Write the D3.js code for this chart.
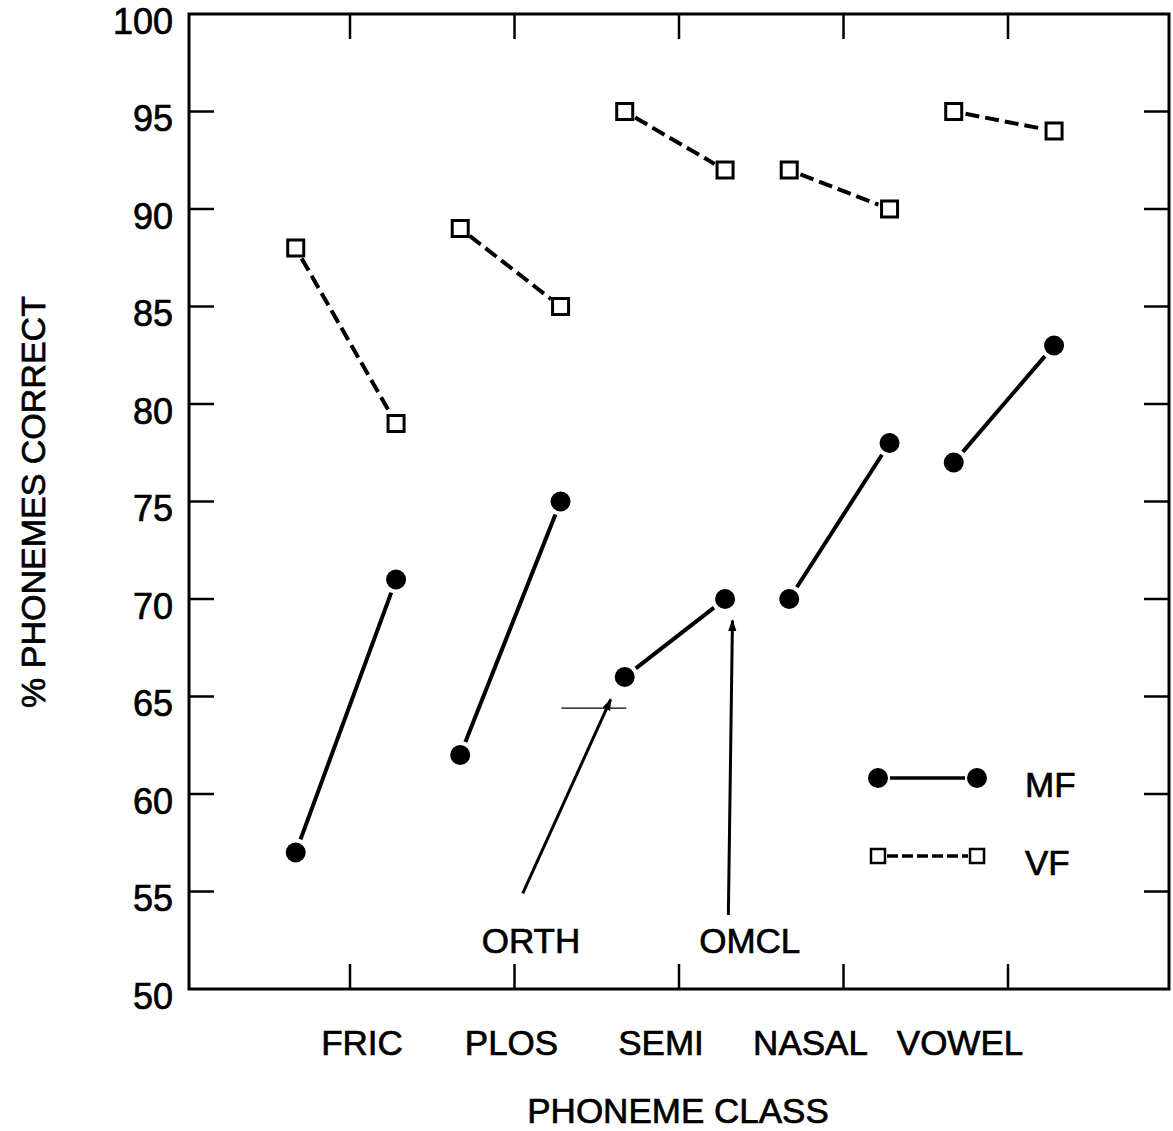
<!DOCTYPE html>
<html><head><meta charset="utf-8">
<script src="https://cdn.jsdelivr.net/npm/d3@7"></script>
<style>
html,body{margin:0;padding:0;background:#fff;}
svg{display:block;}
text{font-family:"Liberation Sans",Arial,Helvetica,sans-serif;fill:#000;stroke:#000;stroke-width:0.7px;}
</style></head>
<body>
<script>
// ---- data ----
const categories = ["FRIC", "PLOS", "SEMI", "NASAL", "VOWEL"];
const conditions = ["ORTH", "OMCL"];
const mfORTH = [57, 62, 66, 70, 77];
const mfOMCL = [71, 75, 70, 78, 83];
const vfORTH = [88, 89, 95, 92, 95];
const vfOMCL = [79, 85, 92, 90, 94];
const yTicks = [50, 55, 60, 65, 70, 75, 80, 85, 90, 95, 100];
const seriesNames = ["MF", "VF"];
const xTitle = "PHONEME CLASS";
const yTitle = "% PHONEMES CORRECT";

// ---- layout ----
const W = 1173, H = 1131;
const frame = {left: 189, right: 1169, top: 14, bottom: 989};
const condOffset = {ORTH: -0.33, OMCL: 0.28};

const svg = d3.select("body").append("svg").attr("width", W).attr("height", H);

const y = d3.scaleLinear().domain([50, 100]).range([frame.bottom, frame.top]);
const x = d3.scaleLinear().domain([0, 4]).range([350, 1008]);
const labelX = d3.scalePoint().domain(categories).range([362, 960]);

// frame
svg.append("rect").attr("x", frame.left).attr("y", frame.top)
  .attr("width", frame.right - frame.left).attr("height", frame.bottom - frame.top)
  .attr("fill", "none").attr("stroke", "#000").attr("stroke-width", 3);

const tickLen = 25;
const inner = yTicks.filter(d => d > 50 && d < 100);
svg.append("g").selectAll("line").data(inner).join("line")
  .attr("x1", frame.left).attr("x2", frame.left + tickLen)
  .attr("y1", d => y(d)).attr("y2", d => y(d))
  .attr("stroke", "#000").attr("stroke-width", 2.5);
svg.append("g").selectAll("line").data(inner).join("line")
  .attr("x1", frame.right).attr("x2", frame.right - tickLen)
  .attr("y1", d => y(d)).attr("y2", d => y(d))
  .attr("stroke", "#000").attr("stroke-width", 2.5);
const idx = categories.map((c, i) => i);
svg.append("g").selectAll("line").data(idx).join("line")
  .attr("x1", d => x(d)).attr("x2", d => x(d))
  .attr("y1", frame.top).attr("y2", frame.top + tickLen)
  .attr("stroke", "#000").attr("stroke-width", 2.5);
svg.append("g").selectAll("line").data(idx).join("line")
  .attr("x1", d => x(d)).attr("x2", d => x(d))
  .attr("y1", frame.bottom).attr("y2", frame.bottom - tickLen)
  .attr("stroke", "#000").attr("stroke-width", 2.5);

// y tick labels
svg.append("g").selectAll("text").data(yTicks).join("text")
  .attr("x", 173).attr("y", d => y(d) + 10)
  .attr("text-anchor", "end").attr("dominant-baseline", "middle")
  .attr("font-size", 36).text(d => d);

// category labels
svg.append("g").selectAll("text").data(categories).join("text")
  .attr("x", d => labelX(d)).attr("y", 1055)
  .attr("text-anchor", "middle").attr("font-size", 35).text(d => d);

// titles
svg.append("text").attr("x", 678).attr("y", 1123).attr("text-anchor", "middle")
  .attr("font-size", 35).text(xTitle);
svg.append("text").attr("transform", "translate(45,502) rotate(-90)")
  .attr("text-anchor", "middle").attr("font-size", 34).text(yTitle);

function seg(g, x1, y1, x2, y2, gap, attrs) {
  const dx = x2 - x1, dy = y2 - y1, L = Math.hypot(dx, dy);
  const ux = dx / L, uy = dy / L;
  const l = g.append("line")
    .attr("x1", x1 + ux * gap).attr("y1", y1 + uy * gap)
    .attr("x2", x2 - ux * gap).attr("y2", y2 - uy * gap);
  Object.entries(attrs).forEach(([k, v]) => l.attr(k, v));
  return l;
}

const px = (i, c) => x(i + condOffset[c]);

// VF series (dashed, open squares)
const gVF = svg.append("g");
categories.forEach((c, i) => {
  seg(gVF, px(i, "ORTH"), y(vfORTH[i]), px(i, "OMCL"), y(vfOMCL[i]), 12,
    {"stroke": "#000", "stroke-width": 4, "stroke-dasharray": "14,6"});
});
const sq = 16;
const vfPts = categories.flatMap((c, i) => [
  {x: px(i, "ORTH"), v: vfORTH[i]}, {x: px(i, "OMCL"), v: vfOMCL[i]}]);
gVF.selectAll("rect").data(vfPts).join("rect")
  .attr("x", d => d.x - sq / 2).attr("y", d => y(d.v) - sq / 2)
  .attr("width", sq).attr("height", sq)
  .attr("fill", "#fff").attr("stroke", "#000").attr("stroke-width", 3);

// MF series (solid, filled circles)
const gMF = svg.append("g");
categories.forEach((c, i) => {
  seg(gMF, px(i, "ORTH"), y(mfORTH[i]), px(i, "OMCL"), y(mfOMCL[i]), 14,
    {"stroke": "#000", "stroke-width": 4});
});
const mfPts = categories.flatMap((c, i) => [
  {x: px(i, "ORTH"), v: mfORTH[i]}, {x: px(i, "OMCL"), v: mfOMCL[i]}]);
gMF.selectAll("circle").data(mfPts).join("circle")
  .attr("cx", d => d.x).attr("cy", d => y(d.v)).attr("r", 10).attr("fill", "#000");

// annotations (arrows)
const defs = svg.append("defs");
defs.append("marker").attr("id", "ah").attr("viewBox", "0 0 10 10")
  .attr("refX", 9).attr("refY", 5).attr("markerWidth", 4).attr("markerHeight", 5)
  .attr("markerUnits", "strokeWidth").attr("orient", "auto")
  .append("path").attr("d", "M0,1.5 L10,5 L0,8.5 Z").attr("fill", "#000");

const annotations = [
  {label: conditions[0], tx: 1.10, tv: 51.85, from: [1.05, 54.9], to: [1.585, 64.85]},
  {label: conditions[1], tx: 2.43, tv: 51.85, from: [2.30, 53.8], to: [2.325, 68.9]}
];
annotations.forEach(a => {
  svg.append("line")
    .attr("x1", x(a.from[0])).attr("y1", y(a.from[1]))
    .attr("x2", x(a.to[0])).attr("y2", y(a.to[1]))
    .attr("stroke", "#000").attr("stroke-width", 3).attr("marker-end", "url(#ah)");
  svg.append("text").attr("x", x(a.tx)).attr("y", y(a.tv))
    .attr("text-anchor", "middle").attr("font-size", 35).text(a.label);
});
svg.append("line").attr("x1", x(1.285)).attr("x2", x(1.68))
  .attr("y1", y(64.4)).attr("y2", y(64.4)).attr("stroke", "#000").attr("stroke-width", 1.2);

// legend
const lg = svg.append("g");
const lx1 = 878, lx2 = 977, ly1 = 778, ly2 = 856;
lg.append("line").attr("x1", lx1 + 12).attr("x2", lx2 - 12).attr("y1", ly1).attr("y2", ly1)
  .attr("stroke", "#000").attr("stroke-width", 3.5);
lg.selectAll("circle").data([lx1, lx2]).join("circle")
  .attr("cx", d => d).attr("cy", ly1).attr("r", 10).attr("fill", "#000");
lg.append("line").attr("x1", lx1 + 9).attr("x2", lx2 - 9).attr("y1", ly2).attr("y2", ly2)
  .attr("stroke", "#000").attr("stroke-width", 3.5).attr("stroke-dasharray", "11,4");
lg.selectAll("rect").data([lx1, lx2]).join("rect")
  .attr("x", d => d - 7).attr("y", ly2 - 7).attr("width", 14).attr("height", 14)
  .attr("fill", "#fff").attr("stroke", "#000").attr("stroke-width", 2.5);
lg.selectAll("text").data([[seriesNames[0], ly1 + 19], [seriesNames[1], ly2 + 19]]).join("text")
  .attr("x", 1025).attr("y", d => d[1]).attr("font-size", 35).text(d => d[0]);
</script>
</body></html>
